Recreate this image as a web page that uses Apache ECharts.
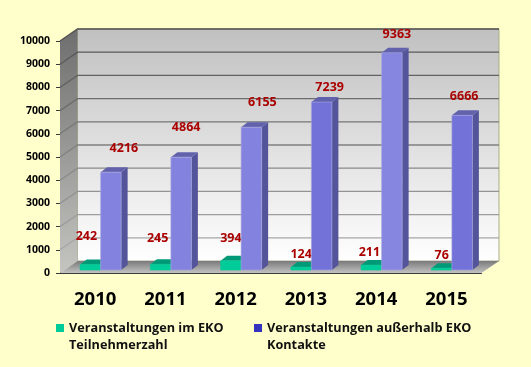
<!DOCTYPE html>
<html>
<head>
<meta charset="utf-8">
<style>
  html, body { margin: 0; padding: 0; background: #ffffcc; }
  #chart { width: 531px; height: 367px; }
</style>
<script src="https://cdn.jsdelivr.net/npm/echarts@6/dist/echarts.min.js"></script>
</head>
<body>
<div id="chart"></div>
<script>
const years = ['2010', '2011', '2012', '2013', '2014', '2015'];
const teilnehmer = [242, 245, 394, 124, 211, 76];
const kontakte = [4216, 4864, 6155, 7239, 9363, 6666];
const yTicks = [0, 1000, 2000, 3000, 4000, 5000, 6000, 7000, 8000, 9000, 10000];
const nameInside = 'Veranstaltungen im EKO\nTeilnehmerzahl';
const nameOutside = 'Veranstaltungen außerhalb EKO\nKontakte';

// the labels were hand placed in the original, so they are nudged from the bar top
const insideNudge = [[-4, -28], [-3, -26], [0, -22], [0, -13], [-2, -13], [0, -12.5]];
const outsideNudge = [[13, -24], [5, -30], [11, -25], [8, -15], [5, -18], [2, -19]];
// 2013 and 2015 are a shade darker in the original
const outsideFronts = ['#8383df', '#8383df', '#8383df', '#7272d8', '#8686e0', '#7272d8'];
const insideFronts = ['#00cc99', '#00cc99', '#00cc99', '#00cc99', '#00cc99', '#00cc99'];

// depth of the box: back wall sits this far right and up from the grid
const DEPTH_X = 17.5;
const DEPTH_Y = -12;
const BAR_W = 20.5;

const font = '"Open Sans", "DejaVu Sans", sans-serif';
const labelRed = '#aa0000';

function vGrad(c0, c1) {
  return new echarts.graphic.LinearGradient(0, 0, 0, 1, [
    { offset: 0, color: c0 },
    { offset: 1, color: c1 },
  ]);
}

function renderBox(params, api) {
  const g = params.coordSys;
  const children = [];
  const x0 = g.x, x1 = g.x + g.width, y0 = g.y, y1 = g.y + g.height;
  // back wall
  children.push({
    type: 'rect',
    shape: { x: x0 + DEPTH_X, y: y0 + DEPTH_Y, width: g.width, height: g.height },
    style: { fill: vGrad('#bfc0bf', '#ffffff'), stroke: '#a9ab8c', lineWidth: 1 },
  });
  // side wall
  children.push({
    type: 'polygon',
    shape: { points: [[x0, y0], [x0 + DEPTH_X, y0 + DEPTH_Y], [x0 + DEPTH_X, y1 + DEPTH_Y], [x0, y1]] },
    style: { fill: vGrad('#6e6e6e', '#c4c4c0') },
  });
  // floor
  children.push({
    type: 'polygon',
    shape: { points: [[x0, y1], [x0 + DEPTH_X, y1 + DEPTH_Y], [x1 + DEPTH_X, y1 + DEPTH_Y], [x1, y1]] },
    style: { fill: vGrad('#7a7a7a', '#c2c2c2') },
  });
  // grid lines run round the side and back walls
  yTicks.slice(1).forEach(function (v) {
    const y = api.coord([0, v])[1];
    const stroke = echarts.color.lerp(v / 10000, ['#b0b0b0', '#505050']);
    children.push({
      type: 'polyline',
      shape: { points: [[x0, y], [x0 + DEPTH_X, y + DEPTH_Y], [x1 + DEPTH_X, y + DEPTH_Y]] },
      style: { fill: 'none', stroke: stroke, lineWidth: 1.3 },
    });
  });
  return { type: 'group', children: children };
}

function makeBarRenderer(offset, fronts, side, top, nudge, border) {
  return function (params, api) {
    const base = api.coord([api.value(0), 0]);
    const head = api.coord([api.value(0), api.value(1)]);
    const xl = base[0] + offset;
    const xr = xl + BAR_W;
    const yb = base[1] - 3;
    const yt = head[1] - 3;
    const dx = 6.5, dy = -5;
    const n = nudge[params.dataIndex];
    return {
      type: 'group',
      children: [
        {
          type: 'polygon',
          shape: { points: [[xr, yt], [xr + dx, yt + dy], [xr + dx, yb + dy], [xr, yb]] },
          style: { fill: side },
        },
        {
          type: 'polygon',
          shape: { points: [[xl, yt], [xl + dx, yt + dy], [xr + dx, yt + dy], [xr, yt]] },
          style: { fill: top },
        },
        {
          type: 'rect',
          shape: { x: xl, y: yt, width: BAR_W, height: yb - yt },
          style: { fill: fronts[params.dataIndex], stroke: border, lineWidth: 0.6 },
        },
        {
          type: 'text',
          z2: 20,
          style: {
            text: String(api.value(1)),
            x: xl + BAR_W / 2 + n[0],
            y: yt + n[1],
            align: 'center',
            verticalAlign: 'middle',
            font: 'bold 12.5px ' + font,
            fill: labelRed,
          },
        },
      ],
    };
  };
}

const legendIcon = 'path://M0 0L0 0ZM0 4H8V12H0ZM0 34L0 34Z';
const legendBase = {
  top: 320,
  padding: 0,
  itemWidth: 8,
  itemHeight: 34,
  itemGap: 2,
  icon: legendIcon,
  selectedMode: false,
  textStyle: {
    fontFamily: font,
    fontWeight: 'bold',
    fontSize: 12.7,
    lineHeight: 17,
    color: '#111',
  },
};

const myChart = echarts.init(document.getElementById('chart'), null, { renderer: 'canvas' });
myChart.setOption({
  animation: false,
  backgroundColor: '#ffffcc',
  grid: { left: 60, right: 49.5, top: 41, bottom: 94 },
  legend: [
    Object.assign({}, legendBase, { left: 56, data: [nameInside] }),
    Object.assign({}, legendBase, { left: 254, data: [nameOutside] }),
  ],
  xAxis: {
    type: 'category',
    data: years,
    axisLine: { lineStyle: { color: '#3a3a3a', width: 1 } },
    axisTick: { length: 7, lineStyle: { color: '#3a3a3a' } },
    axisLabel: { margin: 17.5, fontFamily: font, fontWeight: 'bold', fontSize: 18.5, color: '#000' },
  },
  yAxis: {
    type: 'value',
    min: 0,
    max: 10000,
    interval: 1000,
    splitLine: { show: false },
    axisLine: { show: true, lineStyle: { color: '#3a3a3a', width: 1 } },
    axisTick: { show: true, length: 4, lineStyle: { color: '#3a3a3a' } },
    axisLabel: { margin: 10, fontFamily: font, fontWeight: 'bold', fontSize: 10.5, color: '#000', formatter: (v) => String(v) },
  },
  series: [
    {
      type: 'custom',
      silent: true,
      z: 1,
      data: [[0, 0]],
      renderItem: renderBox,
    },
    {
      name: nameInside,
      type: 'custom',
      z: 2,
      itemStyle: { color: '#00cc99' },
      data: teilnehmer.map((v, i) => [i, v]),
      renderItem: makeBarRenderer(-15, insideFronts, '#007f60', '#009977', insideNudge, '#00cc99'),
    },
    {
      name: nameOutside,
      type: 'custom',
      z: 3,
      itemStyle: { color: '#3333bb' },
      data: kontakte.map((v, i) => [i, v]),
      renderItem: makeBarRenderer(5.5, outsideFronts, '#54549a', '#6262ac', outsideNudge, '#a8a8e0'),
    },
  ],
});
</script>
</body>
</html>
